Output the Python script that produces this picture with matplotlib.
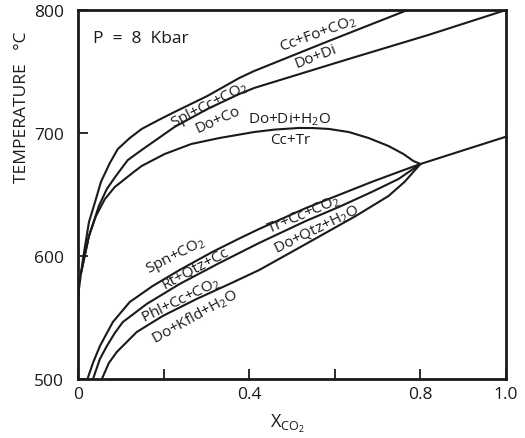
import matplotlib
matplotlib.use("Agg")
import matplotlib.pyplot as plt

# ---- data (x = X_CO2, y = temperature in deg C) ----
curve_fo_x = [0.0, 0.0023, 0.007, 0.0116, 0.0256, 0.0419, 0.0535, 0.0744, 0.093, 0.121, 0.1488,
              0.1907, 0.2256, 0.3023, 0.3767, 0.4116, 0.5744, 0.77]
curve_fo_y = [554.5, 573.2, 586, 597.6, 627.6, 646.3, 660.2, 675.6, 687.0, 695.9, 703.3,
              711.0, 717.1, 730.1, 744.7, 750.4, 773.2, 800]

curve_spl_x = [0.007, 0.0256, 0.0488, 0.0674, 0.0884, 0.1163, 0.1488, 0.2256, 0.3023, 0.3767,
               0.4116, 0.6326, 0.8186, 1.0]
curve_spl_y = [586, 616.3, 640.7, 654.5, 665.0, 678.0, 686.2, 704.9, 719.5, 731.7,
               736.6, 760.2, 779.7, 800]

curve_tr_x = [0.007, 0.0256, 0.0419, 0.0628, 0.086, 0.1302, 0.1488, 0.2023, 0.2651, 0.3302,
              0.4116, 0.46, 0.5163, 0.55, 0.586, 0.6326, 0.6791, 0.7256, 0.7605, 0.7837, 0.80]
curve_tr_y = [586, 616.3, 632.5, 646.3, 656.1, 668.3, 673.2, 682.9, 691.1, 695.9,
              700.8, 702.8, 704.1, 704.0, 703.3, 700.8, 695.9, 689.4, 682.9, 677.2, 674.8]

curve_right_x = [0.80, 1.0]
curve_right_y = [674.8, 697.0]

curve_spn_x = [0.022, 0.0349, 0.0512, 0.0814, 0.1209, 0.1744, 0.2372, 0.314, 0.3767, 0.4233,
               0.5326, 0.6093, 0.686, 0.7488, 0.80]
curve_spn_y = [500, 513.0, 526.8, 546.3, 562.6, 575.6, 588.6, 603.3, 614.2, 622.0,
               639.0, 649.6, 660.2, 668.3, 674.8]

curve_qtz_x = [0.035, 0.0512, 0.0674, 0.086, 0.1047, 0.1605, 0.2372, 0.3302, 0.4233, 0.5326,
               0.6093, 0.686, 0.7488, 0.80]
curve_qtz_y = [500, 516.3, 526.8, 537.4, 546.3, 561.0, 577.2, 594.3, 610.6, 628.5,
               639.8, 652.0, 662.6, 674.8]

curve_phl_x = [0.0558, 0.0721, 0.0907, 0.1372, 0.1977, 0.2767, 0.3535, 0.4233, 0.5326, 0.6488,
               0.7256, 0.7628, 0.80]
curve_phl_y = [500, 513.0, 522.0, 538.2, 551.2, 565.0, 577.2, 588.6, 609.8, 632.5,
               648.8, 660.2, 674.8]

curves = [(curve_fo_x, curve_fo_y), (curve_spl_x, curve_spl_y), (curve_tr_x, curve_tr_y),
          (curve_right_x, curve_right_y), (curve_spn_x, curve_spn_y),
          (curve_qtz_x, curve_qtz_y), (curve_phl_x, curve_phl_y)]

# reaction labels: text, x, y, rotation
labels = [
    ("Spl+Cc+CO$_2$", 0.307, 723.5, 27),
    ("Do+Co", 0.328, 711.5, 24),
    ("Cc+Fo+CO$_2$", 0.560, 781.0, 20),
    ("Do+Di", 0.556, 763.0, 21),
    ("Do+Di+H$_2$O", 0.495, 711.4, 0),
    ("Cc+Tr", 0.495, 695.0, 0),
    ("Spn+CO$_2$", 0.228, 600.5, 27),
    ("Rt+Qtz+Cc", 0.274, 591.0, 28),
    ("Phl+Cc+CO$_2$", 0.240, 565.0, 26),
    ("Do+Kfld+H$_2$O", 0.274, 551.5, 29),
    ("Tr+Cc+CO$_2$", 0.528, 634.0, 23),
    ("Do+Qtz+H$_2$O", 0.556, 622.5, 26),
]

xticks = [0.0, 0.2, 0.4, 0.6, 0.8, 1.0]
xticklabels = ["0", "", "0.4", "", "0.8", "1.0"]
yticks = [500, 600, 700, 800]
yticklabels = ["500", "600", "700", "800"]

FONT = "Open Sans"
plt.rcParams["font.family"] = [FONT, "DejaVu Sans"]
plt.rcParams["mathtext.fontset"] = "custom"
plt.rcParams["mathtext.rm"] = FONT
plt.rcParams["mathtext.it"] = FONT

fig = plt.figure(figsize=(5.25, 4.39), dpi=100)
ax = fig.add_axes([78 / 525, 1 - 380 / 439, 428 / 525, 369 / 439])

for cx, cy in curves:
    ax.plot(cx, cy, color="#1a1a1a", lw=1.5, solid_capstyle="round", solid_joinstyle="round")

for txt, lx, ly, rot in labels:
    ax.text(lx, ly, txt, rotation=rot, rotation_mode="anchor", ha="center", va="center",
            fontsize=11, color="#1a1a1a")

ax.text(0.035, 777.6, "P  =  8  Kbar", fontsize=12.5, ha="left", va="center", color="#1a1a1a")

ax.set_xlim(0, 1.0)
ax.set_ylim(500, 800)
ax.set_xticks(xticks)
ax.set_xticklabels(xticklabels)
ax.set_yticks(yticks)
ax.set_yticklabels(yticklabels)
ax.tick_params(direction="in", length=7, width=1.3, labelsize=12.5, colors="#1a1a1a")
ax.tick_params(axis="y", pad=10)
ax.tick_params(axis="x", pad=5)
for sp in ax.spines.values():
    sp.set_linewidth(2.0)
    sp.set_color("#1a1a1a")

ax.set_xlabel(r"X$_{\mathrm{CO_2}}$", fontsize=13, color="#1a1a1a", labelpad=6)
ax.xaxis.set_label_coords(0.49, -0.09)
fig.text(22 / 525, 1 - 107 / 439, "TEMPERATURE   \u00b0C", rotation=90, ha="center", va="center",
         fontsize=12.5, color="#1a1a1a")

fig.savefig("out.png", dpi=100, facecolor="white")
